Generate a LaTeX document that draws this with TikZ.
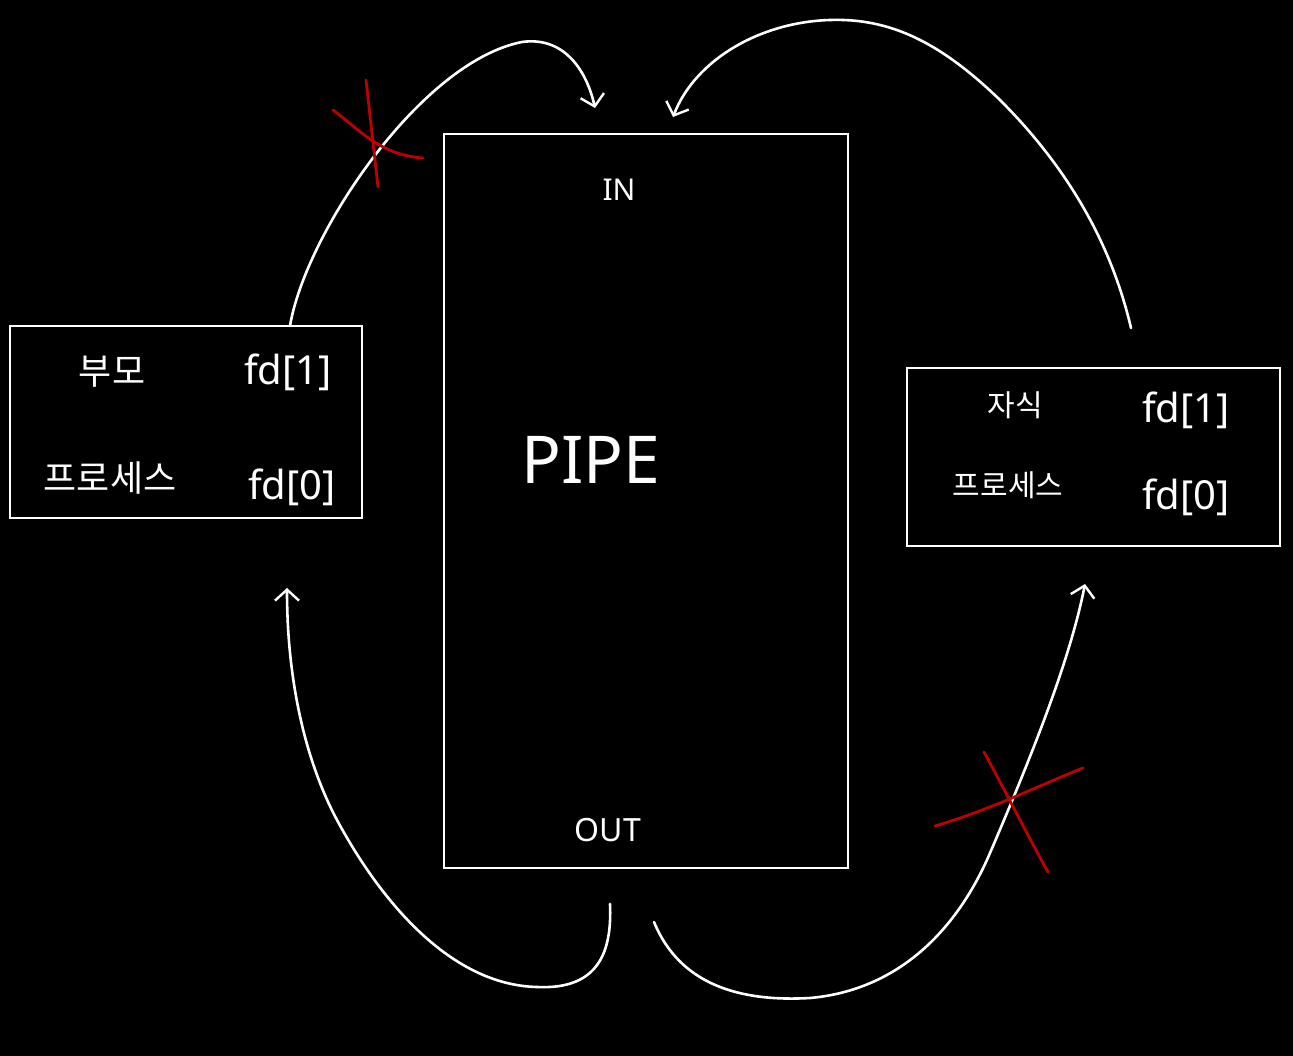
\documentclass[tikz,border=0pt]{standalone}
\usepackage{fontspec}
\setmainfont{Noto Sans}
\newfontfamily\kr{Noto Sans CJK KR}
\usetikzlibrary{arrows.meta}
\begin{document}
\begin{tikzpicture}[x=1pt,y=-1pt,
  box/.style={draw=white,line width=1.5pt,inner sep=0pt,fill=none},
  lbl/.style={text=white,inner sep=0pt,font=\kr\fontsize{36}{38}\selectfont},
  lbls/.style={text=white,inner sep=0pt,font=\kr\fontsize{30}{32}\selectfont},
  fdl/.style={text=white,inner sep=0pt,font=\fontsize{40}{42}\selectfont},
  flow/.style={draw=white,line width=2.6pt,line cap=round,-{Straight Barb[length=11pt,width=24pt,line width=2.4pt]}},
  cross/.style={draw={rgb,255:red,190;green,0;blue,0},line width=2.8pt,line cap=round}]
\fill[black] (0,0) rectangle (1293,1056);
\useasboundingbox (0,0) rectangle (1293,1056);
% boxes
\node[box,minimum width=352pt,minimum height=192pt] (parent) at (186,422) {};
\node[box,minimum width=404pt,minimum height=734pt] (pipe) at (646,501) {};
\node[box,minimum width=373pt,minimum height=178pt] (child) at (1093.5,457) {};
% texts
\node[lbl] (p1) at (112,372) {부모};
\node[lbl] (p2) at (110,478) {프로세스};
\node[fdl] (pf1) at (288,372) {fd[1]};
\node[fdl] (pf0) at (292,487) {fd[0]};
\node[lbls] (c1) at (1015,405) {자식};
\node[lbls] (c2) at (1008,485) {프로세스};
\node[fdl] (cf1) at (1186,410) {fd[1]};
\node[fdl] (cf0) at (1186,497) {fd[0]};
\node[text=white,inner sep=0pt,font=\fontsize{30}{32}\selectfont] (in) at (619,190) {IN};
\node[text=white,inner sep=0pt,font=\fontsize{66}{70}\selectfont] (pipelbl) at (591,460) {PIPE};
\node[text=white,inner sep=0pt,font=\fontsize{32}{34}\selectfont] (out) at (608,830) {OUT};
% connector endpoints
\coordinate (a1s) at (290,326);
\coordinate (a1e) at (595,108);
\coordinate (a2s) at (1131,328);
\coordinate (a2e) at (673,117);
\coordinate (a3s) at (610,904);
\coordinate (a3e) at (287,588);
\coordinate (a4s) at (654,922);
\coordinate (a4e) at (1085,584);
% flows
\draw[flow] (a1s) .. controls (305,235) and (420,62) .. (522,42)
  .. controls (565,36) and (587,72) .. (a1e);
\draw[flow] (a2s) .. controls (1115,260) and (1080,180) .. (1000,100)
  .. controls (940,42) and (890,18) .. (830,20)
  .. controls (760,22) and (695,60) .. (a2e);
\draw[flow] (a3s) .. controls (612,950) and (600,990) .. (537,987)
  .. controls (450,985) and (380,900) .. (337,820)
  .. controls (305,760) and (287,680) .. (a3e);
\draw[flow] (a4s) .. controls (680,985) and (740,1002) .. (810,998)
  .. controls (900,990) and (958,928) .. (990,853)
  .. controls (1032,755) and (1070,660) .. (a4e);
% red crosses
\draw[cross] (366,80) -- (378,187);
\draw[cross] (333,110) .. controls (360,130) and (380,155) .. (423,158);
\draw[cross] (984,752) .. controls (1010,800) and (1030,840) .. (1048,872);
\draw[cross] (935,826) .. controls (990,810) and (1040,785) .. (1083,768);
\end{tikzpicture}
\end{document}
